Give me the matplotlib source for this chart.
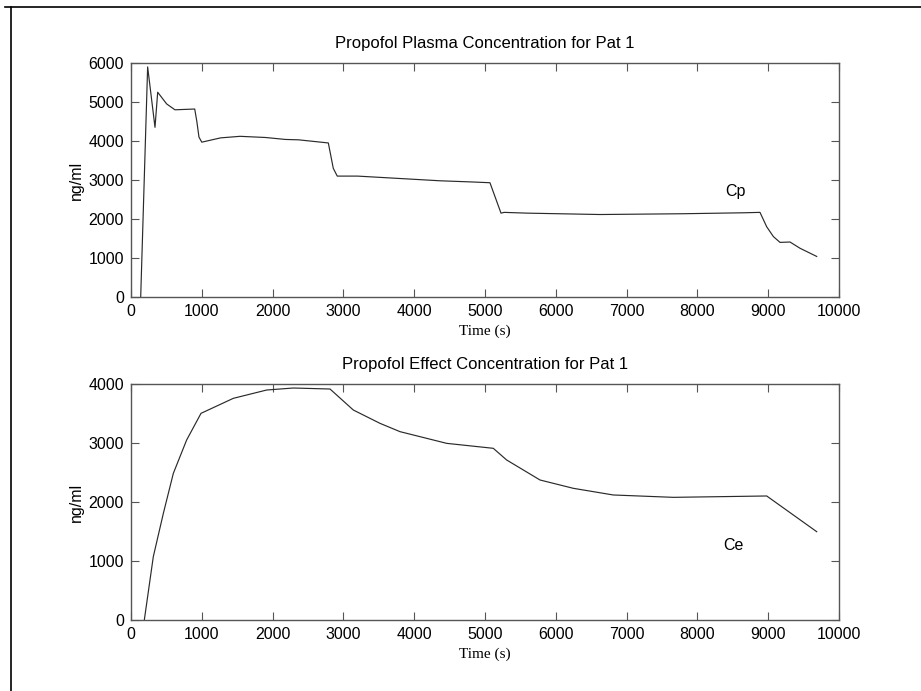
import matplotlib
matplotlib.use("Agg")
import matplotlib.pyplot as plt
from matplotlib.lines import Line2D

# Plasma concentration (ng/ml) over time (s)
cp_time = [137, 235, 339, 377, 504, 621, 900, 930, 960, 1000, 1265, 1540, 1900,
           2180, 2367, 2787, 2857, 2913, 3200, 4364, 4812, 5070, 5226, 5270,
           5600, 6624, 7800, 8672, 8884, 8979, 9073, 9167, 9308, 9449, 9685]
cp_conc = [0, 5900, 4350, 5250, 4950, 4800, 4820, 4500, 4100, 3970, 4080, 4120,
           4090, 4040, 4030, 3950, 3300, 3100, 3100, 2980, 2950, 2930, 2150,
           2170, 2150, 2115, 2135, 2160, 2170, 1800, 1550, 1400, 1410, 1250, 1040]

# Effect-site concentration (ng/ml) over time (s)
ce_time = [188, 315, 457, 598, 786, 989, 1445, 1916, 2293, 2811, 3140, 3517,
           3800, 3987, 4459, 5117, 5306, 5777, 6247, 6812, 7660, 8979, 9685]
ce_conc = [0, 1073, 1808, 2486, 3051, 3503, 3757, 3898, 3932, 3915, 3559, 3333,
           3192, 3136, 2994, 2910, 2712, 2373, 2232, 2119, 2079, 2102, 1497]

plt.rcParams["font.family"] = ["Liberation Sans", "DejaVu Sans"]
plt.rcParams["font.size"] = 11.5

fig = plt.figure(figsize=(9.21, 6.91), dpi=100)
W, H = 921, 691

def make_axes(top, bottom):
    ax = fig.add_axes([131 / W, 1 - bottom / H, (839 - 131) / W, (bottom - top) / H])
    for s in ax.spines.values():
        s.set_color("#555555")
        s.set_linewidth(1.0)
    ax.tick_params(direction="in", top=True, right=True, length=6, color="#555555", pad=5)
    return ax

ax1 = make_axes(63, 297)
ax1.plot(cp_time, cp_conc, color="#2a2a2a", linewidth=0.85)
ax1.set_xlim(0, 10000)
ax1.set_ylim(0, 6000)
ax1.set_xticks(range(0, 10001, 1000))
ax1.set_yticks(range(0, 6001, 1000))
ax1.set_title("Propofol Plasma Concentration for Pat 1", fontsize=12, pad=11)
ax1.set_xlabel("Time (s)", family="Liberation Serif", fontsize=11, labelpad=4)
ax1.set_ylabel("ng/ml", labelpad=3)
ax1.text(8541, 2710, "Cp", ha="center", va="center")

ax2 = make_axes(384, 620)
ax2.plot(ce_time, ce_conc, color="#2a2a2a", linewidth=0.85)
ax2.set_xlim(0, 10000)
ax2.set_ylim(0, 4000)
ax2.set_xticks(range(0, 10001, 1000))
ax2.set_yticks(range(0, 4001, 1000))
ax2.set_title("Propofol Effect Concentration for Pat 1", fontsize=12, pad=11)
ax2.set_xlabel("Time (s)", family="Liberation Serif", fontsize=11, labelpad=4)
ax2.set_ylabel("ng/ml", labelpad=3)
ax2.text(8503, 1271, "Ce", ha="center", va="center")

# frame lines along the top and left edges
fig.add_artist(Line2D([5 / W, 1], [1 - 7 / H, 1 - 7 / H], color="black", linewidth=1.2))
fig.add_artist(Line2D([11 / W, 11 / W], [0, 1 - 7 / H], color="black", linewidth=1.2))

fig.savefig("out.png", dpi=100)
